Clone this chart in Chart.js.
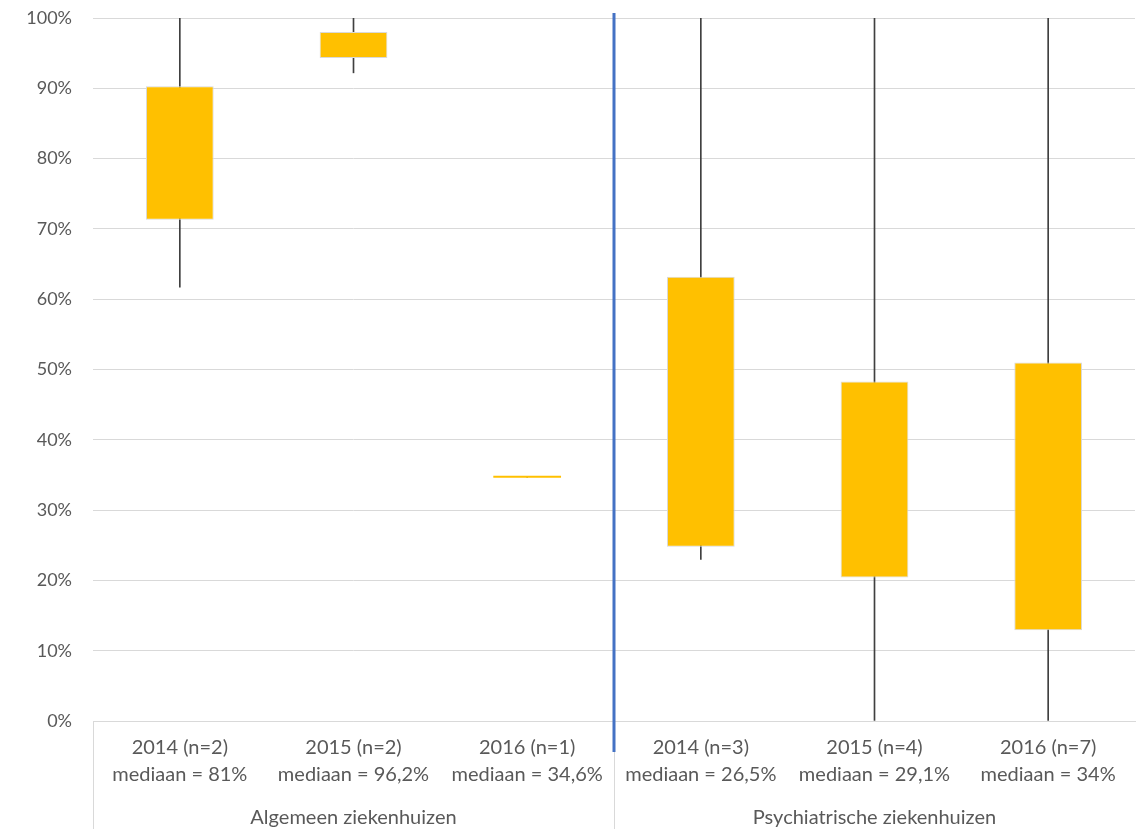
<!DOCTYPE html>
<html lang="nl">
<head>
  <meta charset="UTF-8">
  <title>Boxplot ziekenhuizen</title>
  <style>
    html, body { margin: 0; padding: 0; background: #fff; }
    #chartContainer { width: 1140px; height: 829px; }
  </style>
</head>
<body>
  <div id="chartContainer">
    <canvas id="myChart"></canvas>
  </div>

  <script src="https://cdn.jsdelivr.net/npm/chart.js@4.4.2/dist/chart.umd.min.js"></script>
  <script>
    // categories (two-line labels) and the two hospital groups
    const categories = [
      ['2014 (n=2)', 'mediaan = 81%'],
      ['2015 (n=2)', 'mediaan = 96,2%'],
      ['2016 (n=1)', 'mediaan = 34,6%'],
      ['2014 (n=3)', 'mediaan = 26,5%'],
      ['2015 (n=4)', 'mediaan = 29,1%'],
      ['2016 (n=7)', 'mediaan = 34%']
    ];
    const groups = ['Algemeen ziekenhuizen', 'Psychiatrische ziekenhuizen'];
    const groupSize = 3;

    // box: lower and upper quartile, whisker: min and max (percent)
    const q1 = [71.3, 94.3, 34.6, 24.8, 20.4, 12.9];
    const q3 = [90.3, 98.0, 34.6, 63.2, 48.3, 51.0];
    const minVals = [61.7, 92.2, 34.6, 23.0, 0, 0];
    const maxVals = [100, 100, 34.6, 100, 100, 100];

    const yTicks = [0, 10, 20, 30, 40, 50, 60, 70, 80, 90, 100];

    const labelFont = 'Lato, "Open Sans", sans-serif';

    // group labels, separators and the blue divider
    const groupPlugin = {
      id: 'groupPlugin',
      afterDraw(chart) {
        const ctx = chart.ctx;
        const x = chart.scales.x;
        const area = chart.chartArea;
        const h = chart.height;
        const step = x.getPixelForValue(1) - x.getPixelForValue(0);
        ctx.save();
        ctx.strokeStyle = '#d9d9d9';
        ctx.lineWidth = 1;
        ctx.fillStyle = '#595959';
        ctx.font = '20px ' + labelFont;
        ctx.textAlign = 'center';
        ctx.textBaseline = 'middle';
        groups.forEach((g, i) => {
          const left = x.getPixelForValue(i * groupSize) - step / 2;
          const right = x.getPixelForValue(i * groupSize + groupSize - 1) + step / 2;
          ctx.beginPath();
          ctx.moveTo(Math.round(left) + 0.5, area.bottom);
          ctx.lineTo(Math.round(left) + 0.5, h);
          ctx.stroke();
          ctx.fillText(g, (left + right) / 2, 818);
        });
        // blue divider between the groups
        const mid = (x.getPixelForValue(groupSize - 1) + x.getPixelForValue(groupSize)) / 2;
        ctx.strokeStyle = '#4472C4';
        ctx.lineWidth = 3;
        ctx.beginPath();
        ctx.moveTo(mid, 13);
        ctx.lineTo(mid, 752);
        ctx.stroke();
        ctx.restore();
      }
    };

    const ctx = document.getElementById('myChart').getContext('2d');

    const chart = new Chart(ctx, {
      type: 'bar',
      data: {
        labels: categories,
        datasets: [
          {
            label: 'Spreiding',
            data: minVals.map((v, i) => [v, maxVals[i]]),
            backgroundColor: '#404040',
            barThickness: 1,
            grouped: false,
            order: 2
          },
          {
            label: 'Kwartielen',
            data: q1.map((v, i) => [v, q3[i]]),
            backgroundColor: '#FFC000',
            borderColor: '#d9d9d9',
            borderWidth: q1.map((v, i) => (q3[i] - v > 0 ? 1 : 0)),
            borderSkipped: false,
            minBarLength: 2,
            barPercentage: 0.39,
            categoryPercentage: 1,
            grouped: false,
            order: 1
          }
        ]
      },
      options: {
        responsive: true,
        maintainAspectRatio: false,
        devicePixelRatio: 1,
        animation: false,
        layout: { padding: { top: 18, right: 5, left: 0, bottom: 0 } },
        scales: {
          x: {
            grid: { display: false, drawTicks: false },
            border: { display: true, color: '#d9d9d9', width: 1 },
            ticks: {
              color: '#595959',
              font: { family: labelFont, size: 20, lineHeight: 1.35 },
              padding: 13,
              maxRotation: 0,
              autoSkip: false
            },
            afterFit(scale) {
              scale.height = 108;
              scale.paddingLeft = 0;
              scale.paddingRight = 0;
            }
          },
          y: {
            min: 0,
            max: 100,
            afterBuildTicks(scale) { scale.ticks = yTicks.map(v => ({ value: v })); },
            grid: { color: '#d9d9d9', drawTicks: false },
            border: { display: false },
            ticks: {
              color: '#595959',
              font: { family: labelFont, size: 18 },
              padding: 21,
              callback: v => v + '%'
            },
            afterFit(scale) {
              scale.width = 93;
              scale.paddingTop = 0;
              scale.paddingBottom = 0;
            }
          }
        },
        plugins: {
          legend: { display: false },
          tooltip: { enabled: false }
        }
      },
      plugins: [groupPlugin]
    });
  </script>
</body>
</html>
